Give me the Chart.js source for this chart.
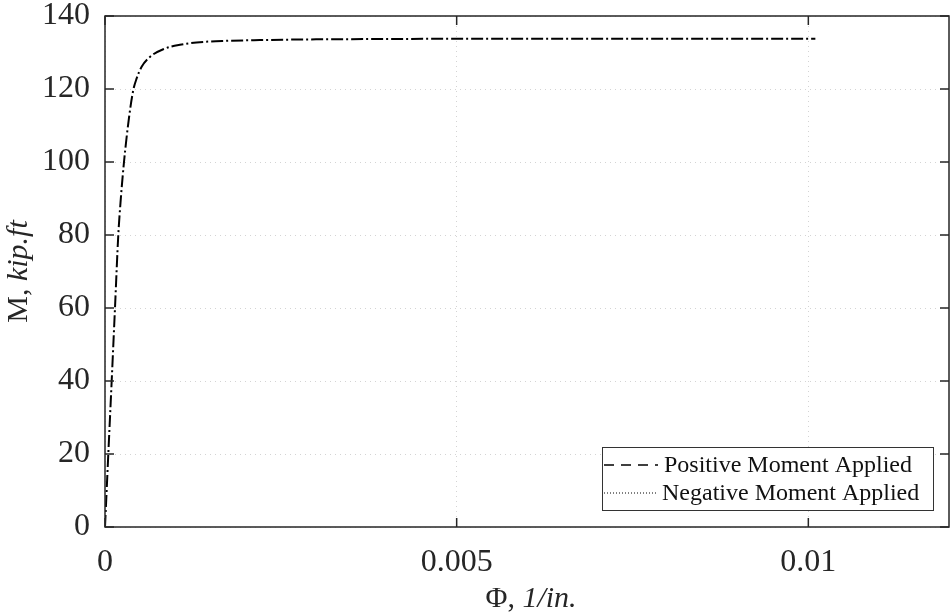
<!DOCTYPE html>
<html lang="en">
<head>
    <meta charset="UTF-8">
    <title>Moment-Curvature</title>
    <script src="https://cdn.jsdelivr.net/npm/chart.js"></script>
    <style>
        body { margin: 0; background: #fff; }
        #wrap { width: 951px; height: 614px; }
    </style>
</head>
<body>
    <div id="wrap"><canvas id="mphi"></canvas></div>
    <script>
        // curvature (1/in.) and moment (kip.ft)
        const phi = [0, 0.000047, 0.000095, 0.000142, 0.000189, 0.000225, 0.00027, 0.000341, 0.000402,
                     0.00045, 0.000521, 0.000639, 0.000828, 0.001065, 0.001396, 0.001729, 0.0022,
                     0.003, 0.004, 0.006, 0.008, 0.0101];
        const moment = [0, 20, 40, 60, 80, 90, 100, 112.1, 119.7,
                        122.9, 126.1, 128.8, 130.9, 132.1, 132.9, 133.2, 133.4,
                        133.6, 133.7, 133.8, 133.8, 133.8];
        const seriesNames = ['Positive Moment Applied', 'Negative Moment Applied'];
        const xTicks = [0, 0.005, 0.01];
        const yTicks = [0, 20, 40, 60, 80, 100, 120, 140];

        const pts = phi.map((p, i) => ({ x: p, y: moment[i] }));
        const serif = '"Liberation Serif", "Times New Roman", serif';
        const ink = '#262626';

        // box, inward ticks, legend and axis titles in the MATLAB look
        const matlabLook = {
            id: 'matlabLook',
            afterDraw(chart) {
                const ctx = chart.ctx;
                const a = chart.chartArea;
                const xs = chart.scales.x, ys = chart.scales.y;
                const tl = 9;
                ctx.save();
                ctx.strokeStyle = ink;
                ctx.lineWidth = 1.5;
                ctx.setLineDash([]);
                ctx.strokeRect(a.left, a.top, a.right - a.left, a.bottom - a.top);
                ctx.beginPath();
                xTicks.forEach(v => {
                    const px = xs.getPixelForValue(v);
                    ctx.moveTo(px, a.bottom); ctx.lineTo(px, a.bottom - tl);
                    ctx.moveTo(px, a.top); ctx.lineTo(px, a.top + tl);
                });
                yTicks.forEach(v => {
                    const py = ys.getPixelForValue(v);
                    ctx.moveTo(a.left, py); ctx.lineTo(a.left + tl, py);
                    ctx.moveTo(a.right, py); ctx.lineTo(a.right - tl, py);
                });
                ctx.stroke();

                // legend
                const lx = 602, ly = 447, lw = 331, lh = 63;
                ctx.fillStyle = '#fff';
                ctx.fillRect(lx, ly, lw, lh);
                ctx.lineWidth = 1;
                ctx.strokeStyle = '#333';
                ctx.strokeRect(lx + 0.5, ly + 0.5, lw, lh);
                ctx.font = '24px ' + serif;
                ctx.fillStyle = '#111';
                ctx.textBaseline = 'middle';
                ctx.textAlign = 'left';
                const rows = [ly + 18, ly + 46];
                const samples = [[10, 7], [1, 2]];
                chart.data.datasets.forEach((ds, i) => {
                    ctx.strokeStyle = '#000';
                    ctx.lineWidth = i === 0 ? 1.6 : 1;
                    ctx.setLineDash(samples[i]);
                    ctx.beginPath();
                    ctx.moveTo(lx + 2, rows[i]);
                    ctx.lineTo(lx + 56, rows[i]);
                    ctx.stroke();
                    ctx.setLineDash([]);
                    ctx.fillText(ds.label, lx + (i === 0 ? 62 : 60), rows[i] + 1);
                });

                // axis titles with italic units
                ctx.fillStyle = ink;
                const fs = 30;
                const part1 = 'Φ, ', part2 = '1/in.';
                ctx.font = fs + 'px ' + serif;
                const w1 = ctx.measureText(part1).width;
                ctx.font = 'italic ' + fs + 'px ' + serif;
                const w2 = ctx.measureText(part2).width;
                const cx = 531 - (w1 + w2) / 2;
                ctx.textAlign = 'left';
                ctx.font = fs + 'px ' + serif;
                ctx.fillText(part1, cx, 599);
                ctx.font = 'italic ' + fs + 'px ' + serif;
                ctx.fillText(part2, cx + w1, 599);

                ctx.translate(19, (a.top + a.bottom) / 2);
                ctx.rotate(-Math.PI / 2);
                const p1 = 'M, ', p2 = 'kip.ft';
                ctx.font = fs + 'px ' + serif;
                const m1 = ctx.measureText(p1).width;
                ctx.font = 'italic ' + fs + 'px ' + serif;
                const m2 = ctx.measureText(p2).width;
                ctx.font = fs + 'px ' + serif;
                ctx.fillText(p1, -(m1 + m2) / 2, 0);
                ctx.font = 'italic ' + fs + 'px ' + serif;
                ctx.fillText(p2, -(m1 + m2) / 2 + m1, 0);
                ctx.restore();
            }
        };

        new Chart(document.getElementById('mphi').getContext('2d'), {
            type: 'line',
            data: {
                datasets: [{
                    label: seriesNames[0],
                    data: pts,
                    borderColor: '#000',
                    borderWidth: 2,
                    borderDash: [12, 8],
                    pointRadius: 0,
                    cubicInterpolationMode: 'monotone',
                    fill: false
                }, {
                    label: seriesNames[1],
                    data: pts,
                    borderColor: '#000',
                    borderWidth: 2,
                    borderDash: [2, 18],
                    borderDashOffset: -15,
                    pointRadius: 0,
                    cubicInterpolationMode: 'monotone',
                    fill: false
                }]
            },
            options: {
                responsive: true,
                maintainAspectRatio: false,
                animation: false,
                layout: { padding: { top: 16, right: 2, left: 0, bottom: 0 } },
                plugins: { legend: { display: false }, tooltip: { enabled: false } },
                scales: {
                    x: {
                        type: 'linear',
                        min: 0,
                        max: 0.012,
                        afterFit: s => { s.height = 87; s.paddingLeft = 0; s.paddingRight = 0; },
                        afterBuildTicks: s => { s.ticks = xTicks.map(v => ({ value: v })); },
                        ticks: {
                            font: { family: serif, size: 32 },
                            color: ink,
                            padding: 16,
                            maxRotation: 0,
                            callback: v => String(parseFloat(v.toFixed(4)))
                        },
                        grid: { color: '#d4d4d4', lineWidth: 1, drawTicks: false },
                        border: { display: false, dash: [1, 4] }
                    },
                    y: {
                        min: 0,
                        max: 140,
                        afterFit: s => { s.width = 105; s.paddingTop = 0; s.paddingBottom = 0; },
                        afterBuildTicks: s => { s.ticks = yTicks.map(v => ({ value: v })); },
                        ticks: {
                            font: { family: serif, size: 32 },
                            color: ink,
                            padding: 15
                        },
                        grid: { color: '#d4d4d4', lineWidth: 1, drawTicks: false },
                        border: { display: false, dash: [1, 4] }
                    }
                }
            },
            plugins: [matlabLook]
        });
    </script>
</body>
</html>
